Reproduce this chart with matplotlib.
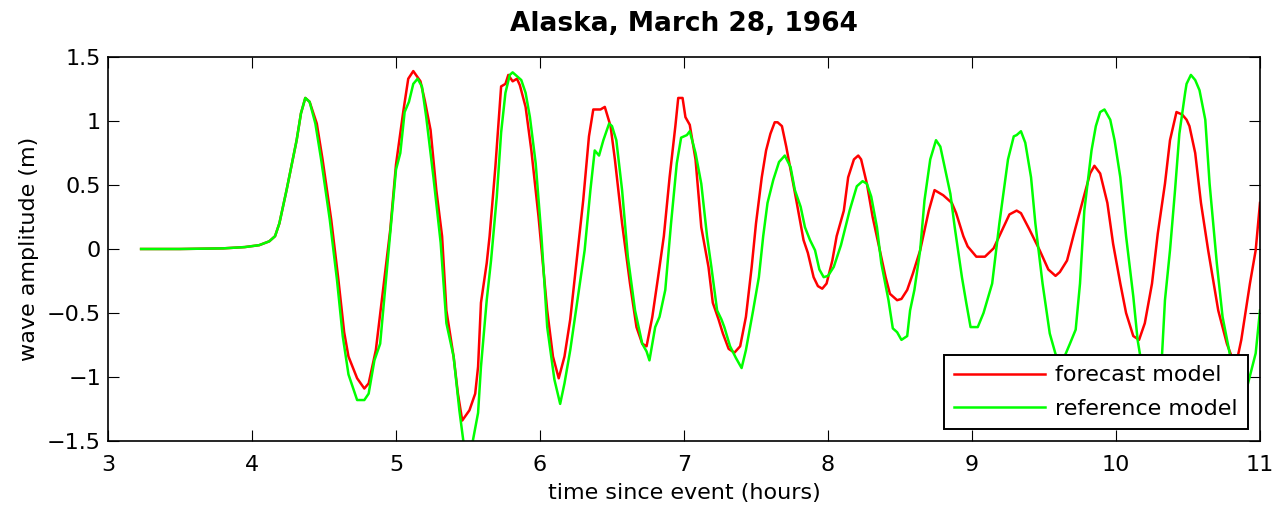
import matplotlib
matplotlib.use("Agg")
import matplotlib.pyplot as plt

# Forecast model time series (hours since event, wave amplitude in m)
t_forecast = [3.23, 3.50, 3.80, 3.95, 4.05, 4.12, 4.16, 4.19, 4.24, 4.31, 4.34, 4.37, 4.40,
              4.45, 4.49, 4.55, 4.60, 4.64, 4.67, 4.73, 4.78, 4.81, 4.86, 4.91, 4.96, 5.00,
              5.05, 5.085, 5.12, 5.17, 5.20, 5.24, 5.28, 5.32, 5.35, 5.40, 5.43, 5.46, 5.51,
              5.55, 5.57, 5.59, 5.63, 5.65, 5.69, 5.73, 5.76, 5.78, 5.81, 5.84, 5.86, 5.90,
              5.94, 5.99, 6.05, 6.09, 6.13, 6.17, 6.21, 6.25, 6.30, 6.34, 6.37, 6.42, 6.45,
              6.49, 6.52, 6.57, 6.625, 6.67, 6.71, 6.74, 6.78, 6.82, 6.86, 6.90, 6.94, 6.96,
              6.99, 7.01, 7.04, 7.08, 7.12, 7.17, 7.20, 7.24, 7.27, 7.31, 7.35, 7.39, 7.43,
              7.47, 7.50, 7.54, 7.57, 7.60, 7.63, 7.65, 7.68, 7.71, 7.75, 7.78, 7.83, 7.86,
              7.90, 7.93, 7.96, 7.99, 8.03, 8.06, 8.11, 8.14, 8.18, 8.21, 8.23, 8.27, 8.31,
              8.36, 8.40, 8.43, 8.48, 8.51, 8.55, 8.59, 8.64, 8.70, 8.74, 8.80, 8.86, 8.89,
              8.94, 8.97, 9.03, 9.09, 9.15, 9.21, 9.26, 9.31, 9.34, 9.40, 9.47, 9.53, 9.58,
              9.61, 9.66, 9.715, 9.77, 9.82, 9.85, 9.89, 9.94, 9.98, 10.03, 10.07, 10.12,
              10.16, 10.20, 10.25, 10.29, 10.34, 10.375, 10.42, 10.46, 10.49, 10.51, 10.55,
              10.59, 10.64, 10.71, 10.77, 10.80, 10.84, 10.87, 10.93, 10.97, 11.00]
amp_forecast = [0.00, 0.00, 0.005, 0.015, 0.03, 0.06, 0.10, 0.20, 0.46, 0.85, 1.06, 1.18, 1.15,
                0.98, 0.70, 0.23, -0.24, -0.65, -0.84, -1.01, -1.09, -1.05, -0.79, -0.32, 0.15, 0.66,
                1.07, 1.33, 1.39, 1.31, 1.16, 0.93, 0.46, 0.10, -0.48, -0.84, -1.13, -1.34, -1.26,
                -1.13, -0.92, -0.42, -0.11, 0.10, 0.64, 1.27, 1.29, 1.36, 1.31, 1.33, 1.28, 1.11,
                0.77, 0.25, -0.48, -0.84, -1.01, -0.84, -0.55, -0.14, 0.38, 0.88, 1.09, 1.09, 1.11,
                0.96, 0.70, 0.20, -0.27, -0.61, -0.74, -0.76, -0.53, -0.22, 0.10, 0.56, 0.96, 1.18,
                1.18, 1.03, 0.97, 0.70, 0.17, -0.14, -0.42, -0.55, -0.66, -0.78, -0.81, -0.76, -0.53,
                -0.14, 0.20, 0.56, 0.77, 0.90, 0.99, 0.99, 0.96, 0.80, 0.56, 0.38, 0.07, -0.03,
                -0.22, -0.29, -0.31, -0.27, -0.09, 0.10, 0.30, 0.56, 0.70, 0.73, 0.70, 0.51, 0.25,
                -0.01, -0.22, -0.35, -0.40, -0.39, -0.32, -0.19, -0.01, 0.30, 0.46, 0.42, 0.36, 0.28,
                0.10, 0.02, -0.06, -0.06, 0.005, 0.15, 0.27, 0.30, 0.28, 0.15, -0.01, -0.16, -0.21,
                -0.18, -0.09, 0.15, 0.38, 0.59, 0.65, 0.59, 0.36, 0.04, -0.27, -0.50, -0.68,
                -0.71, -0.58, -0.27, 0.12, 0.51, 0.85, 1.07, 1.05, 1.01, 0.96, 0.75,
                0.36, -0.01, -0.48, -0.74, -0.83, -0.87, -0.71, -0.27, -0.01, 0.36]

# Reference model time series
t_reference = [3.23, 3.50, 3.80, 3.95, 4.05, 4.12, 4.16, 4.19, 4.24, 4.31, 4.34, 4.37, 4.40,
               4.44, 4.48, 4.54, 4.59, 4.63, 4.67, 4.73, 4.78, 4.81, 4.85, 4.89, 4.96, 5.00,
               5.03, 5.06, 5.09, 5.12, 5.15, 5.18, 5.21, 5.26, 5.31, 5.35, 5.40, 5.44, 5.47,
               5.50, 5.53, 5.57, 5.59, 5.63, 5.66, 5.70, 5.73, 5.76, 5.79, 5.81, 5.87, 5.90,
               5.93, 5.97, 6.01, 6.05, 6.10, 6.14, 6.17, 6.21, 6.25, 6.31, 6.35, 6.38, 6.41,
               6.44, 6.48, 6.50, 6.53, 6.57, 6.61, 6.66, 6.71, 6.74, 6.76, 6.80, 6.83, 6.87,
               6.91, 6.95, 6.98, 7.02, 7.04, 7.08, 7.12, 7.16, 7.19, 7.23, 7.26, 7.28, 7.32,
               7.36, 7.40, 7.43, 7.48, 7.52, 7.55, 7.58, 7.62, 7.66, 7.70, 7.74, 7.77, 7.81,
               7.84, 7.875, 7.91, 7.94, 7.97, 8.00, 8.04, 8.09, 8.15, 8.20, 8.24, 8.27, 8.30,
               8.34, 8.37, 8.42, 8.45, 8.48, 8.51, 8.55, 8.57, 8.60, 8.64, 8.67, 8.71, 8.75,
               8.78, 8.81, 8.85, 8.88, 8.93, 8.96, 8.99, 9.04, 9.08, 9.14, 9.19, 9.25, 9.29,
               9.31, 9.34, 9.37, 9.41, 9.44, 9.49, 9.54, 9.58, 9.615, 9.65, 9.68, 9.72, 9.75,
               9.78, 9.83, 9.86, 9.89, 9.92, 9.96, 9.99, 10.03, 10.07, 10.12, 10.15, 10.20,
               10.24, 10.28, 10.32, 10.34, 10.375, 10.41, 10.44, 10.48, 10.49, 10.52, 10.55,
               10.58, 10.62, 10.65, 10.70, 10.74, 10.78, 10.82, 10.86, 10.91, 10.97, 11.00]
amp_reference = [0.00, 0.00, 0.005, 0.015, 0.03, 0.06, 0.10, 0.20, 0.46, 0.85, 1.06, 1.18, 1.15,
                 0.98, 0.70, 0.23, -0.24, -0.68, -0.98, -1.18, -1.18, -1.13, -0.87, -0.74, 0.12, 0.62,
                 0.75, 1.07, 1.15, 1.29, 1.33, 1.27, 1.03, 0.56, 0.05, -0.58, -0.84, -1.26, -1.52,
                 -1.56, -1.52, -1.28, -0.92, -0.40, -0.09, 0.41, 0.91, 1.22, 1.36, 1.38, 1.32, 1.22,
                 1.03, 0.67, 0.10, -0.61, -1.02, -1.21, -1.05, -0.79, -0.48, -0.01, 0.46, 0.77, 0.73,
                 0.85, 0.98, 0.96, 0.85, 0.46, -0.06, -0.48, -0.74, -0.80, -0.87, -0.61, -0.53, -0.32,
                 0.20, 0.67, 0.87, 0.89, 0.92, 0.75, 0.51, 0.10, -0.14, -0.48, -0.55, -0.61, -0.76,
                 -0.85, -0.93, -0.79, -0.48, -0.22, 0.10, 0.36, 0.54, 0.68, 0.73, 0.64, 0.46, 0.33,
                 0.17, 0.07, -0.01, -0.16, -0.22, -0.21, -0.14, 0.03, 0.30, 0.49, 0.53, 0.51, 0.41,
                 0.17, -0.11, -0.40, -0.62, -0.65, -0.71, -0.68, -0.48, -0.32, -0.01, 0.38, 0.70, 0.85,
                 0.80, 0.64, 0.43, 0.17, -0.22, -0.42, -0.61, -0.61, -0.50, -0.27, 0.20, 0.70, 0.88,
                 0.89, 0.92, 0.83, 0.56, 0.20, -0.27, -0.66, -0.82, -0.90, -0.82, -0.74, -0.63, -0.27,
                 0.30, 0.77, 0.96, 1.07, 1.09, 1.01, 0.85, 0.56, 0.10, -0.37, -0.71, -1.05,
                 -1.15, -1.10, -0.82, -0.40, -0.01, 0.46, 0.90, 1.22, 1.29, 1.36, 1.32,
                 1.24, 1.01, 0.51, -0.11, -0.53, -0.76, -1.00, -1.12, -1.08, -0.815, -0.48]

x_ticks = [3, 4, 5, 6, 7, 8, 9, 10, 11]
y_ticks = [-1.5, -1, -0.5, 0, 0.5, 1, 1.5]
y_tick_labels = ["\u22121.5", "\u22121", "\u22120.5", "0", "0.5", "1", "1.5"]

plt.rcParams["font.family"] = ["DejaVu Sans"]
FS = 16

fig = plt.figure(figsize=(12.85, 5.12), dpi=100)
ax = fig.add_axes([108 / 1285, 71 / 512, 1152 / 1285, 384 / 512])

ax.plot(t_forecast, amp_forecast, color=(1, 0, 0), lw=1.8, label="forecast model")
ax.plot(t_reference, amp_reference, color=(0, 1, 0), lw=1.8, label="reference model")

ax.set_xlim(3, 11)
ax.set_ylim(-1.5, 1.5)
ax.set_xticks(x_ticks)
ax.set_xticklabels([str(v) for v in x_ticks])
ax.set_yticks(y_ticks)
ax.set_yticklabels(y_tick_labels)
ax.tick_params(direction="in", top=True, right=True, length=8, width=0.8,
               labelsize=FS, colors="black")
ax.tick_params(axis="x", pad=10)
ax.tick_params(axis="y", pad=5)
for s in ax.spines.values():
    s.set_linewidth(1.2)

ax.set_xlabel("time since event (hours)", fontsize=FS, labelpad=6)
ax.set_ylabel("wave amplitude (m)", fontsize=FS, labelpad=6)
ax.set_title("Alaska, March 28, 1964", fontsize=19, fontweight="bold", pad=19)

leg = ax.legend(loc="lower right", fontsize=FS, frameon=True, fancybox=False,
                framealpha=1, edgecolor="black", handlelength=4.1,
                handletextpad=0.45, borderpad=0.45, labelspacing=0.6,
                borderaxespad=0.55)
leg.get_frame().set_linewidth(1.4)

fig.savefig("out.png", dpi=100, facecolor="white")
